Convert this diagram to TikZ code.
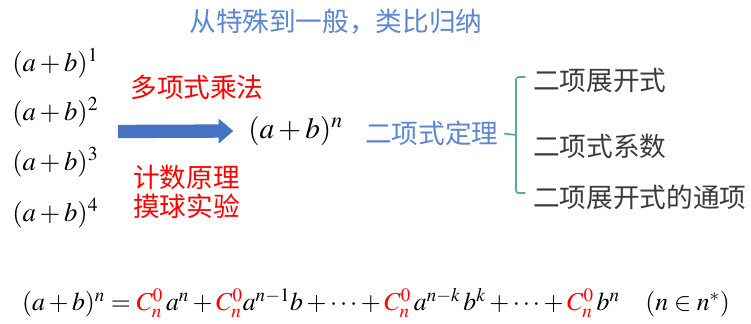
\documentclass[tikz,border=0pt]{standalone}
\usepackage{mathptmx}
\usepackage{fontspec}
\setmainfont{Liberation Serif}
\newfontfamily\cjk{Noto Sans CJK SC}
\usetikzlibrary{arrows.meta,positioning}
\definecolor{tt}{HTML}{5B86D2}
\definecolor{ar}{HTML}{4472C4}
\definecolor{br}{HTML}{5AA6AC}
\definecolor{rd}{HTML}{FF0000}
\definecolor{gy}{HTML}{3A3A3A}
\tikzset{
  zh/.style={inner sep=0pt, font=\fontsize{20}{24}\selectfont\cjk},
  title/.style={zh, text=tt},
  method/.style={zh, text=rd},
  topic/.style={zh, text=tt, anchor=west},
  item/.style={zh, text=gy, anchor=west},
  term/.style={inner sep=0pt, font=\fontsize{20}{24}\selectfont, anchor=west},
  bigarrow/.style={-{Triangle[length=11pt,width=18pt]}, line width=10pt, draw=ar},
  brace/.style={draw=br, line width=1.3pt, rounded corners=2pt},
}
\newcommand{\coef}{{\color{rd}C_n^0}}

\begin{document}
\begin{tikzpicture}[x=0.75pt,y=-0.75pt]
  \useasboundingbox (0,0) rectangle (751,324);
  \node[title] (title) at (336,22) {从特殊到一般，类比归纳};
  % special cases
  \foreach \k/\y in {1/63,2/112,3/162,4/213}
    \node[term] (p\k) at (12,\y) {$(a+b)^{\k}$};
  \node[method] (mul) at (197,87) {多项式乘法};
  \node[method, anchor=west] (cnt) at (133,177) {计数原理};
  \node[method, anchor=west] (ball) at (133,206) {摸球实验};
  % general case
  \node[term, font=\fontsize{22}{26}\selectfont] (pn) at (248,131) {$(a+b)^n$};
  \coordinate (arrs) at (118,131.5);
  \draw[bigarrow] (arrs) -- ([xshift=-11pt]pn.west);
  \node[topic] (thm) at (365,133) {二项式定理};
  \node[item] (it1) at (533,80) {二项展开式};
  \node[item] (it2) at (533,146) {二项式系数};
  \node[item] (it3) at (533,197) {二项展开式的通项};
  % brace
  \coordinate (bm) at (516,135);
  \coordinate (bt) at (516,77);
  \coordinate (bb) at (516,193);
  \draw[brace, shorten <=4pt] (thm.east) -- (bm);
  \draw[brace] ([xshift=7pt]bt) -- (bt) -- (bb) -- ([xshift=7pt]bb);
  % formula
  \node[term, anchor=center, font=\fontsize{19.3}{23}\selectfont] (eq) at (376,303)
    {$(a+b)^n=\coef\,a^n+\coef a^{n-1}b+\cdots+\coef\,a^{n-k}\,b^k+\cdots+\coef\,b^n\quad(n\in n^*)$};
\end{tikzpicture}
\end{document}
